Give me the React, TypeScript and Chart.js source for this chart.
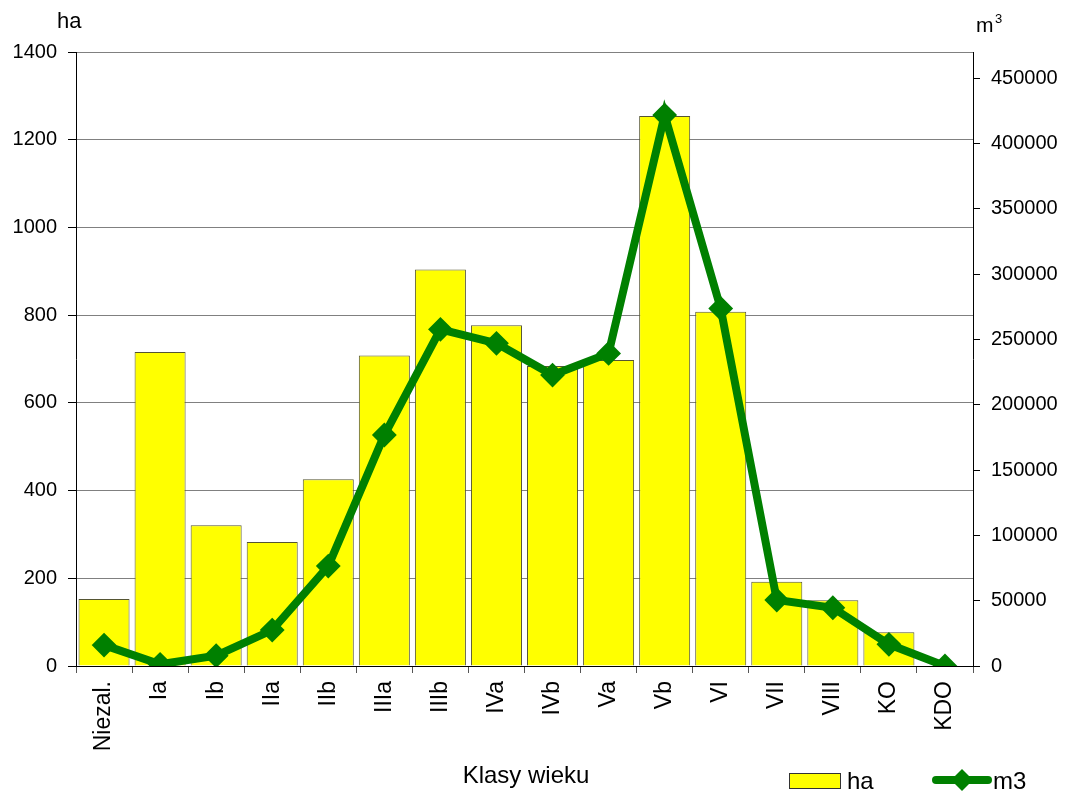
import React, { useEffect, useRef } from "react";
import { Chart, registerables } from "chart.js";

Chart.register(...registerables);

const categories = ["Niezal.", "Ia", "Ib", "IIa", "IIb", "IIIa", "IIIb", "IVa", "IVb", "Va", "Vb", "VI", "VII", "VIII", "KO", "KDO"];
const haValues = [153, 716, 321, 283, 426, 708, 904, 777, 684, 698, 1254, 808, 192, 150, 77, 0];
const m3Values = [16000, 1300, 7900, 27500, 76500, 176800, 257700, 247000, 222700, 239300, 421700, 273700, 50500, 44600, 16600, 0];
const leftTicks = [0, 200, 400, 600, 800, 1000, 1200, 1400];
const rightTicks = [0, 50000, 100000, 150000, 200000, 250000, 300000, 350000, 400000, 450000];

const FONT = "'Liberation Sans', Arial, sans-serif";
const GREEN = "#008000";
const YELLOW = "#FFFF00";

const extrasPlugin = {
  id: "extras",
  afterDraw(chart: any) {
    const ctx = chart.ctx;
    ctx.save();
    ctx.fillStyle = "#000";
    ctx.textBaseline = "alphabetic";
    ctx.textAlign = "left";
    // left axis unit
    ctx.font = `22px ${FONT}`;
    ctx.fillText("ha", 57, 28);
    // right axis unit m^3
    ctx.font = `21px ${FONT}`;
    ctx.fillText("m", 976, 32);
    ctx.font = `13px ${FONT}`;
    ctx.fillText("3", 995, 23);
    // x axis title
    ctx.font = `24px ${FONT}`;
    ctx.textAlign = "center";
    ctx.fillText("Klasy wieku", 526, 783);
    // legend
    ctx.textAlign = "left";
    ctx.fillStyle = YELLOW;
    ctx.fillRect(789.5, 773.5, 51, 15);
    ctx.strokeStyle = "#333";
    ctx.lineWidth = 1;
    ctx.strokeRect(789.5, 773.5, 51, 15);
    ctx.fillStyle = "#000";
    ctx.font = `24px ${FONT}`;
    ctx.fillText("ha", 847, 789);
    ctx.strokeStyle = GREEN;
    ctx.lineWidth = 8;
    ctx.lineCap = "round";
    ctx.beginPath();
    ctx.moveTo(936, 780);
    ctx.lineTo(988, 780);
    ctx.stroke();
    ctx.fillStyle = GREEN;
    ctx.beginPath();
    ctx.moveTo(962 - 11, 780);
    ctx.lineTo(962, 780 - 11);
    ctx.lineTo(962 + 11, 780);
    ctx.lineTo(962, 780 + 11);
    ctx.closePath();
    ctx.fill();
    ctx.fillStyle = "#000";
    ctx.fillText("m3", 993, 789);
    ctx.restore();
  },
};

export default function App() {
  const canvasRef = useRef<HTMLCanvasElement | null>(null);

  useEffect(() => {
    if (!canvasRef.current) return;
    const chart = new Chart(canvasRef.current, {
      type: "bar",
      data: {
        labels: categories,
        datasets: [
          {
            type: "line",
            label: "m3",
            data: m3Values,
            yAxisID: "y2",
            borderColor: GREEN,
            backgroundColor: GREEN,
            borderWidth: 8,
            pointStyle: "rectRot",
            pointRadius: 11,
            pointBorderWidth: 2,
            pointBackgroundColor: GREEN,
            pointBorderColor: GREEN,
            tension: 0,
            order: 0,
          } as any,
          {
            type: "bar",
            label: "ha",
            data: haValues,
            yAxisID: "y",
            backgroundColor: YELLOW,
            borderColor: "#555533",
            borderWidth: 1,
            barPercentage: 0.91,
            categoryPercentage: 1,
            order: 1,
          } as any,
        ],
      },
      options: {
        responsive: false,
        animation: false,
        layout: { padding: { top: 52, left: 0, right: 0, bottom: 0 } },
        plugins: {
          legend: { display: false },
          tooltip: { enabled: false },
        },
        scales: {
          x: {
            offset: true,
            border: { display: true, color: "#000", width: 1 },
            grid: {
              display: true,
              offset: true,
              drawOnChartArea: false,
              drawTicks: true,
              tickLength: 7,
              tickColor: "#555",
            },
            ticks: {
              autoSkip: false,
              minRotation: 90,
              maxRotation: 90,
              padding: 8,
              color: "#000",
              font: { family: FONT, size: 23 },
            },
            afterFit: (scale: any) => {
              scale.height = 126;
            },
          },
          y: {
            position: "left",
            min: 0,
            max: 1400,
            border: { display: true, color: "#000", width: 1 },
            grid: {
              color: "#808080",
              lineWidth: 1,
              tickLength: 8,
              tickColor: "#000",
            },
            ticks: {
              stepSize: 200,
              padding: 11,
              color: "#000",
              font: { family: FONT, size: 20 },
              callback: (v: any) => String(v),
            },
            afterBuildTicks: (scale: any) => {
              scale.ticks = leftTicks.map((v) => ({ value: v }));
            },
            afterFit: (scale: any) => {
              scale.width = 76;
            },
          },
          y2: {
            position: "right",
            min: 0,
            max: 470000,
            border: { display: true, color: "#000", width: 1 },
            grid: {
              drawOnChartArea: false,
              tickLength: 7,
              tickColor: "#000",
            },
            ticks: {
              stepSize: 50000,
              includeBounds: false,
              padding: 11,
              color: "#000",
              font: { family: FONT, size: 20 },
              callback: (v: any) => String(v),
            },
            afterBuildTicks: (scale: any) => {
              scale.ticks = rightTicks.map((v) => ({ value: v }));
            },
            afterFit: (scale: any) => {
              scale.width = 95;
            },
          },
        },
      } as any,
      plugins: [extrasPlugin],
    });
    return () => chart.destroy();
  }, []);

  return (
    <div style={{ position: "absolute", left: 0, top: 0, width: 1068, height: 792, background: "#fff" }}>
      <canvas ref={canvasRef} width={1068} height={792} />
    </div>
  );
}
